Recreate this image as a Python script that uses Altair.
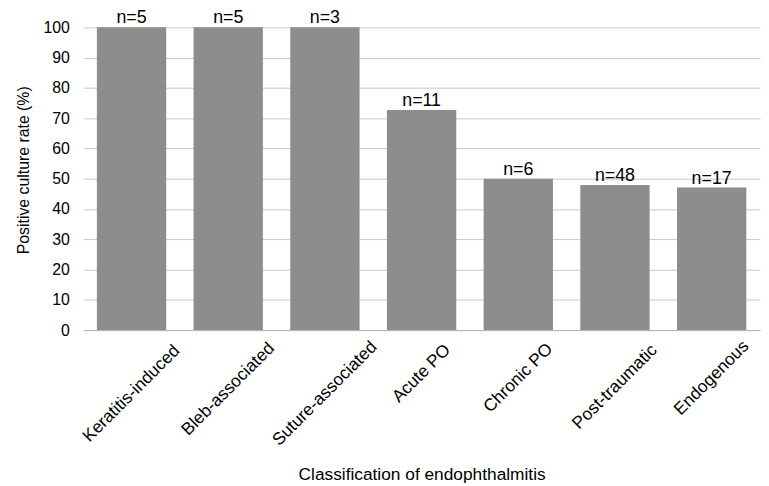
import altair as alt
import pandas as pd

categories = ["Keratitis-induced", "Bleb-associated", "Suture-associated",
              "Acute PO", "Chronic PO", "Post-traumatic", "Endogenous"]
rates = [100, 100, 100, 72.7, 50.0, 47.9, 47.1]
counts = [5, 5, 3, 11, 6, 48, 17]
y_ticks = list(range(0, 101, 10))

df = pd.DataFrame({"category": categories, "rate": rates, "n": counts})

FONT = "Liberation Sans"

x_axis = alt.Axis(
    title="Classification of endophthalmitis", labels=False, ticks=False,
    domainColor="#b4b4b4", domainWidth=1,
    titleFont=FONT, titleFontSize=17.5, titleFontWeight="normal",
    titleColor="#000000", titlePadding=137,
)
x_scale = alt.Scale(paddingInner=0.283, paddingOuter=0.1415)
y_axis = alt.Axis(
    values=y_ticks, tickCount=11, labelOverlap=False,
    grid=True, gridColor="#c8c8c8", gridWidth=1,
    domain=False, ticks=False, labelPadding=14,
    labelFont=FONT, labelFontSize=16, labelColor="#000000",
    title="Positive culture rate (%)", titleFont=FONT, titleFontSize=16,
    titleFontWeight="normal", titleColor="#000000", titlePadding=12,
    titleY=144,
)
y_scale = alt.Scale(domain=[0, 100], nice=False)

x_enc = alt.X("category:N", sort=categories, scale=x_scale, axis=x_axis)

bars = alt.Chart(df).mark_bar(color="#8d8d8d").encode(
    x=x_enc,
    y=alt.Y("rate:Q", scale=y_scale, axis=y_axis),
)

nlabels = alt.Chart(df).transform_calculate(
    lbl="'n=' + datum.n"
).mark_text(
    baseline="alphabetic", dy=-4, font=FONT, fontSize=18, color="#000000"
).encode(
    x=x_enc,
    y=alt.Y("rate:Q", scale=y_scale, axis=y_axis),
    text="lbl:N",
)

off = "(26 + 2.25 * length(datum.category))"
catlabels = alt.Chart(df).mark_text(
    angle=315, align="center", baseline="middle",
    font=FONT, fontSize=17.5, color="#000000",
    dx=alt.ExprRef(expr="-0.7071 * " + off),
    dy=alt.ExprRef(expr="0.7071 * " + off),
).encode(
    x=x_enc,
    y=alt.datum(0, scale=y_scale, axis=y_axis),
    text="category:N",
)

chart = alt.layer(bars, nlabels, catlabels).properties(
    width=684, height=306,
    autosize=alt.AutoSizeParams(type="none"),
    padding={"left": 76, "top": 17, "right": 1, "bottom": 154},
).configure_view(stroke=None)

chart.save("out.html", embed_options={"renderer": "svg", "actions": False})
